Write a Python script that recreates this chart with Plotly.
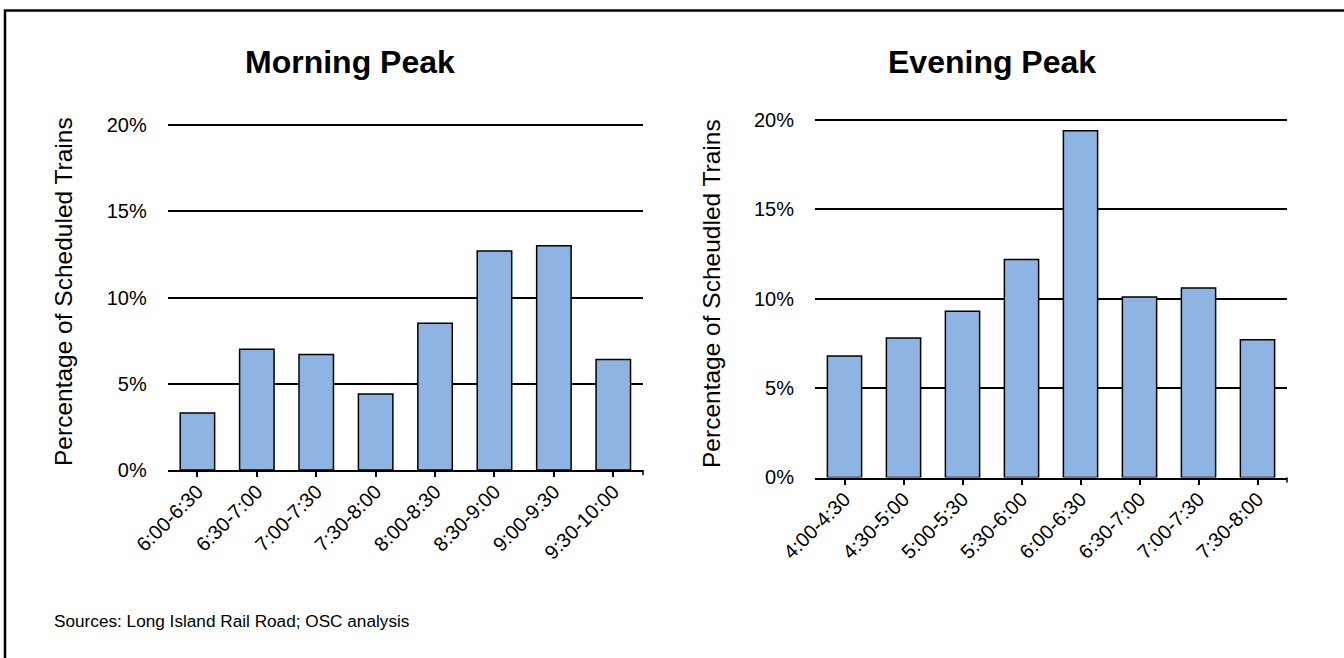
import plotly.graph_objects as go

# ---- data ----
morning_slots = ["6:00-6:30", "6:30-7:00", "7:00-7:30", "7:30-8:00",
                 "8:00-8:30", "8:30-9:00", "9:00-9:30", "9:30-10:00"]
morning_pct = [3.3, 7.0, 6.7, 4.4, 8.5, 12.7, 13.0, 6.4]

evening_slots = ["4:00-4:30", "4:30-5:00", "5:00-5:30", "5:30-6:00",
                 "6:00-6:30", "6:30-7:00", "7:00-7:30", "7:30-8:00"]
evening_pct = [6.8, 7.8, 9.3, 12.2, 19.4, 10.1, 10.6, 7.7]

y_ticks = [0, 5, 10, 15, 20]
y_tick_labels = ["0%", "5%", "10%", "15%", "20%"]

W, H = 1344, 658
FONT = "Liberation Sans, Arial, sans-serif"
BAR_COLOR = "#8EB4E3"
Y_TOP = 20.15  # slightly above 20 so the 20% gridline is drawn

fig = go.Figure()
fig.add_trace(go.Bar(x=morning_slots, y=morning_pct, xaxis="x", yaxis="y",
                     marker=dict(color=BAR_COLOR, line=dict(color="black", width=1.5)),
                     showlegend=False, hoverinfo="x+y"))
fig.add_trace(go.Bar(x=evening_slots, y=evening_pct, xaxis="x2", yaxis="y2",
                     marker=dict(color=BAR_COLOR, line=dict(color="black", width=1.5)),
                     showlegend=False, hoverinfo="x+y"))

def px_x(p):
    return p / W

def px_y(p):
    return 1 - p / H

def dom_top(px0, px20):
    per = (px0 - px20) / 20.0
    return px20 - (Y_TOP - 20) * per

xcommon = dict(type="category", range=[-0.5, 7.5], showline=True, linecolor="black",
               linewidth=2, ticks="outside", ticklen=5, tickwidth=1.5, tickcolor="black",
               tickangle=-45, tickfont=dict(family=FONT, size=20, color="black"),
               ticklabelstandoff=-5,
               showgrid=False, zeroline=False, fixedrange=True, automargin=False)
ycommon = dict(range=[0, Y_TOP], tickvals=y_ticks, ticktext=y_tick_labels,
               showgrid=True, gridcolor="black", gridwidth=2, showline=False,
               ticks="", zeroline=False, ticklabelstandoff=20, automargin=False,
               tickfont=dict(family=FONT, size=20, color="black"), fixedrange=True)

fig.update_layout(
    width=W, height=H, autosize=False,
    margin=dict(l=0, r=0, t=0, b=0, pad=0, autoexpand=False),
    paper_bgcolor="white", plot_bgcolor="white",
    bargap=0.42,
    xaxis=dict(domain=[px_x(167.7), px_x(643)], anchor="y", **xcommon),
    yaxis=dict(domain=[px_y(470), px_y(dom_top(470, 125))], anchor="x", **ycommon),
    xaxis2=dict(domain=[px_x(815), px_x(1287)], anchor="y2", **xcommon),
    yaxis2=dict(domain=[px_y(477.5), px_y(dom_top(477.5, 120))], anchor="x2", **ycommon),
    font=dict(family=FONT, color="black"),
)

annotations = [
    dict(text="<b>Morning Peak</b>", x=px_x(350), y=px_y(62), xref="paper", yref="paper",
         showarrow=False, font=dict(family=FONT, size=32, color="black"),
         xanchor="center", yanchor="middle"),
    dict(text="<b>Evening Peak</b>", x=px_x(992), y=px_y(62), xref="paper", yref="paper",
         showarrow=False, font=dict(family=FONT, size=32, color="black"),
         xanchor="center", yanchor="middle"),
    dict(text="Percentage of Scheduled Trains", x=px_x(63), y=px_y(292), xref="paper",
         yref="paper", textangle=-90, showarrow=False,
         font=dict(family=FONT, size=24.5, color="black"), xanchor="center", yanchor="middle"),
    dict(text="Percentage of Scheudled Trains", x=px_x(711), y=px_y(293), xref="paper",
         yref="paper", textangle=-90, showarrow=False,
         font=dict(family=FONT, size=24.5, color="black"), xanchor="center", yanchor="middle"),
    dict(text="Sources: Long Island Rail Road; OSC analysis", x=px_x(52), y=px_y(621),
         xref="paper", yref="paper", showarrow=False,
         font=dict(family=FONT, size=17.2, color="black"), xanchor="left", yanchor="middle"),
]
fig.update_layout(annotations=annotations)

shapes = [
    # outer frame
    dict(type="rect", xref="paper", yref="paper", x0=px_x(5), x1=px_x(1370),
         y0=px_y(690), y1=px_y(10.5), line=dict(color="black", width=2.5),
         fillcolor="rgba(0,0,0,0)"),
    # closing tick at right end of each category axis
    dict(type="line", xref="x domain", yref="y domain", x0=1, x1=1, y0=0, y1=-0.015,
         line=dict(color="black", width=1.5)),
    dict(type="line", xref="x2 domain", yref="y2 domain", x0=1, x1=1, y0=0, y1=-0.014,
         line=dict(color="black", width=1.5)),
]
fig.update_layout(shapes=shapes)

fig.write_html("out.html", config={"displayModeBar": False},
               post_script="document.body.style.margin='0';document.body.style.padding='0';")
